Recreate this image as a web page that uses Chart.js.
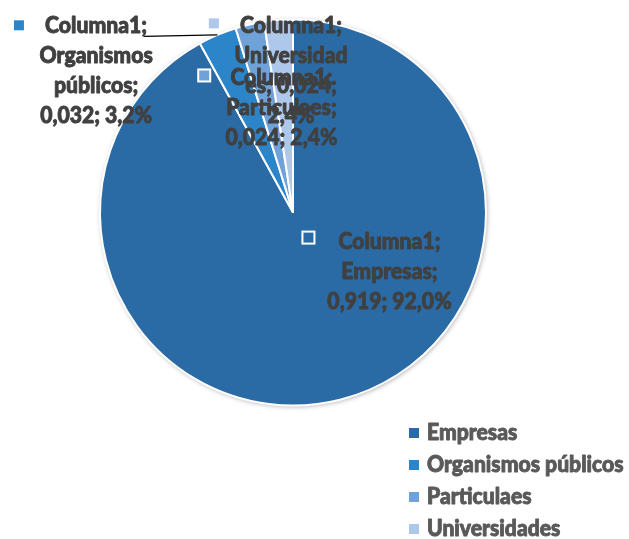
<!DOCTYPE html>
<html>
<head>
<meta charset="utf-8">
<script src="https://cdn.jsdelivr.net/npm/chart.js@4"></script>
<style>
  html, body { margin: 0; padding: 0; background: #fff; }
  #wrap { width: 629px; height: 539px; position: relative; }
</style>
</head>
<body>
<div id="wrap"><canvas id="pie" width="629" height="539"></canvas></div>
<script>
const seriesName = 'Columna1';
const categories = ['Empresas', 'Organismos públicos', 'Particulaes', 'Universidades'];
const values = [0.919, 0.032, 0.024, 0.024];
const percentLabels = ['92,0%', '3,2%', '2,4%', '2,4%'];
const colors = ['#2A6BA5', '#2C85C8', '#6EA2D9', '#ADC8EA'];

// label text lines, as wrapped in the original
const labelLines = [
    ['Columna1;', 'Empresas;', '0,919; 92,0%'],
    ['Columna1;', 'Organismos', 'públicos;', '0,032; 3,2%'],
    ['Columna1;', 'Particulaes;', '0,024; 2,4%'],
    ['Columna1;', 'Universidad', 'es; 0,024;', '2,4%']
];
// label placement relative to pie centre, in radius units (text centre x, first line y)
const labelPos = [
    [0.50, 0.15], [-1.02, -0.97], [-0.06, -0.70], [-0.01, -0.97]
];
// legend key position of each label (relative to pie centre, radius units)
const keyPos = [
    [0.08, 0.13], [-1.42, -0.97], [-0.46, -0.71], [-0.41, -0.98]
];

const FONT = '900 23px Lato, sans-serif';

function squeezedText(c, t, x, y, sx) {
    c.save();
    c.translate(x, y);
    c.scale(sx, 1);
    c.strokeStyle = c.fillStyle;
    c.lineWidth = 0.9;
    c.lineJoin = 'round';
    c.strokeText(t, 0, 0);
    c.fillText(t, 0, 0);
    c.restore();
}

const labelPlugin = {
    id: 'labels',
    beforeDatasetsDraw(chart) {
        const arc = chart.getDatasetMeta(0).data[0];
        const c = chart.ctx;
        c.save();
        c.shadowColor = 'rgba(0,0,0,0.35)';
        c.shadowBlur = 5;
        c.shadowOffsetX = 1;
        c.shadowOffsetY = 1;
        c.fillStyle = '#fff';
        c.beginPath();
        c.arc(arc.x, arc.y, arc.outerRadius, 0, Math.PI * 2);
        c.fill();
        c.restore();
    },
    afterDatasetsDraw(chart) {
        const meta = chart.getDatasetMeta(0);
        const c = chart.ctx;
        const a0 = meta.data[0];
        const cx = a0.x, cy = a0.y, r = a0.outerRadius;
        c.save();
        // leader line for Organismos públicos
        const org = meta.data[1];
        const mid = (org.startAngle + org.endAngle) / 2;
        c.strokeStyle = '#000';
        c.lineWidth = 1.2;
        c.beginPath();
        c.moveTo(cx + Math.cos(mid) * r, cy + Math.sin(mid) * r);
        c.lineTo(cx + labelPos[1][0] * r + 48, cy + labelPos[1][1] * r + 11);
        c.stroke();

        c.font = FONT;
        c.textAlign = 'center';
        c.textBaseline = 'middle';
        labelLines.forEach((lines, i) => {
            const x = cx + labelPos[i][0] * r;
            const y = cy + labelPos[i][1] * r;
            c.fillStyle = '#404040';
            lines.forEach((t, j) => squeezedText(c, t, x, y + j * 30, 0.92));
            const kx = cx + keyPos[i][0] * r;
            const ky = cy + keyPos[i][1] * r;
            c.fillStyle = colors[i];
            c.fillRect(kx - 6, ky - 6, 12, 12);
            c.strokeStyle = '#fff';
            c.lineWidth = 2;
            c.strokeRect(kx - 6, ky - 6, 12, 12);
        });

        // legend, bottom right
        c.textAlign = 'left';
        c.font = '900 22px Lato, sans-serif';
        categories.forEach((name, i) => {
            const y = 433 + i * 32;
            c.fillStyle = colors[i];
            c.fillRect(409, y - 5, 10, 10);
            c.fillStyle = '#595959';
            squeezedText(c, name, 427, y, 0.96);
        });
        c.restore();
    }
};

new Chart(document.getElementById('pie'), {
    type: 'pie',
    data: {
        labels: categories,
        datasets: [{
            label: seriesName,
            data: values,
            backgroundColor: colors,
            borderColor: '#fff',
            borderWidth: 2
        }]
    },
    options: {
        responsive: false,
        animation: false,
        layout: { padding: { left: 99, right: 142, top: 18, bottom: 132 } },
        plugins: {
            legend: { display: false },
            tooltip: { enabled: false }
        }
    },
    plugins: [labelPlugin]
});
</script>
</body>
</html>
